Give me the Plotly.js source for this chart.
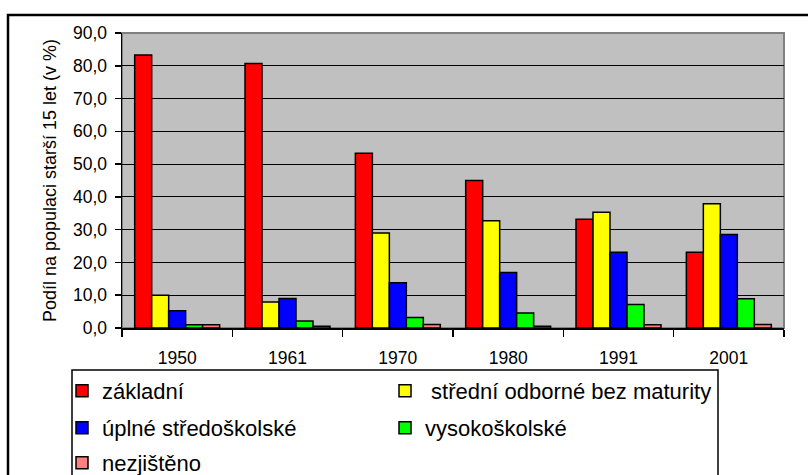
<!DOCTYPE html>
<html>
<head>
<meta charset="utf-8">
<script src="https://cdn.plot.ly/plotly-3.0.1.min.js"></script>
<style>
html,body{margin:0;padding:0;background:#fff;}
#chart{width:808px;height:475px;}
</style>
</head>
<body>
<div id="chart"></div>
<script>
const years = ['1950', '1961', '1970', '1980', '1991', '2001'];
const seriesNames = ['základní', '\u00A0střední odborné bez maturity', 'úplné středoškolské', 'vysokoškolské', 'nezjištěno'];
const zakladni = [83.3, 80.7, 53.3, 45.0, 33.2, 23.1];
const stredniBezMaturity = [10.0, 7.9, 29.0, 32.7, 35.3, 37.9];
const uplneStredoskolske = [5.3, 9.0, 13.8, 16.9, 23.1, 28.5];
const vysokoskolske = [1.0, 2.1, 3.2, 4.6, 7.2, 8.9];
const nezjisteno = [1.0, 0.5, 1.1, 0.5, 1.0, 1.1];
const colors = ['#FF0000', '#FFFF00', '#0000FF', '#00FF00', '#FF8080'];
const seriesValues = [zakladni, stredniBezMaturity, uplneStredoskolske, vysokoskolske, nezjisteno];
const legendIds = ['legend', 'legend2', 'legend3', 'legend4', 'legend5'];

const W = 808, H = 475;
const L = 122, R = 24, T = 33, B = 147;
const pw = W - L - R, ph = H - T - B;
const px = x => (x - L) / pw;
const py = y => (H - B - y) / ph;

const traces = seriesValues.map((vals, i) => ({
  type: 'bar',
  name: seriesNames[i],
  x: years,
  y: vals,
  legend: legendIds[i],
  marker: {color: colors[i], line: {color: '#000000', width: 1.5}},
  hoverinfo: 'x+y+name'
}));

const font = 'Liberation Sans, Arial, sans-serif';
// legend grid: 2 columns, 3 rows (pixel positions of each entry)
const legendCols = [62, 385];
const legendRows = [391, 428, 463];
const legendEntry = i => ({
  orientation: 'h',
  x: px(legendCols[i % 2]), xanchor: 'left',
  y: py(legendRows[Math.floor(i / 2)]), yanchor: 'middle',
  borderwidth: 0,
  bgcolor: 'rgba(0,0,0,0)',
  font: {family: font, size: 22, color: '#000000'}
});

const layout = {
  width: W, height: H,
  margin: {l: L, r: R, t: T, b: B, autoexpand: false},
  paper_bgcolor: '#ffffff',
  plot_bgcolor: '#C0C0C0',
  separators: ', ',
  barmode: 'group',
  bargap: 0.23,
  bargroupgap: 0,
  font: {family: font, size: 17.5, color: '#000000'},
  showlegend: true,
  xaxis: {
    type: 'category',
    showgrid: false,
    showline: true, linecolor: '#000000', linewidth: 1.5,
    ticks: 'outside', tickson: 'boundaries', ticklen: 7, tickwidth: 1.5, tickcolor: '#000000',
    ticklabelstandoff: 13,
    tickfont: {family: font, size: 17.5},
    zeroline: false,
    automargin: false
  },
  yaxis: {
    range: [0, 90], dtick: 10, tick0: 0,
    tickformat: '.1f',
    showgrid: true, gridcolor: '#000000', gridwidth: 1.2,
    showline: true, linecolor: '#000000', linewidth: 1.5,
    ticks: 'outside', ticklen: 6, tickwidth: 1.5, tickcolor: '#000000',
    ticklabelstandoff: 4,
    tickfont: {family: font, size: 17.5},
    zeroline: false,
    automargin: false,
    title: {text: 'Podíl na populaci starší 15 let (v %)', font: {family: font, size: 18}, standoff: 11}
  },
  shapes: [
    {type: 'rect', xref: 'paper', yref: 'paper', x0: 0, x1: 1, y0: 0, y1: 1,
     line: {color: '#808080', width: 2}, layer: 'below'},
    {type: 'rect', xref: 'paper', yref: 'paper', x0: px(8), x1: px(840), y0: py(500), y1: py(15),
     line: {color: '#000000', width: 2.5}, fillcolor: 'rgba(0,0,0,0)', layer: 'above'},
    {type: 'rect', xref: 'paper', yref: 'paper', x0: px(72), x1: px(718), y0: py(500), y1: py(370),
     line: {color: '#000000', width: 1.5}, fillcolor: 'rgba(0,0,0,0)', layer: 'above'}
  ]
};
legendIds.forEach((id, i) => { layout[id] = legendEntry(i); });

Plotly.newPlot('chart', traces, layout, {displayModeBar: false, staticPlot: true});
</script>
</body>
</html>
